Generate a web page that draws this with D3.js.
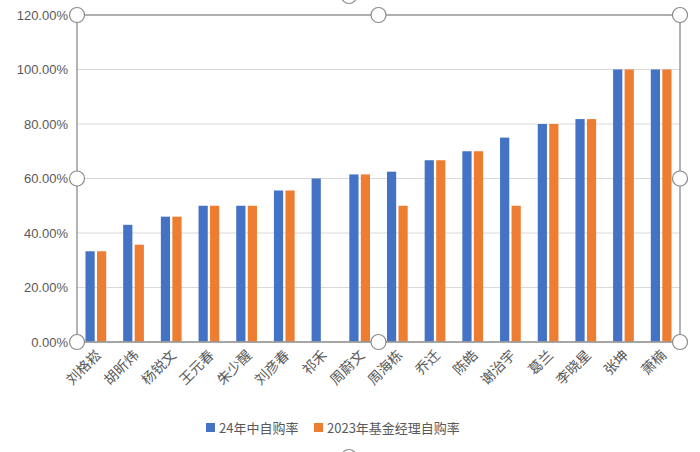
<!DOCTYPE html><html><head><meta charset="utf-8"><script src="https://cdn.jsdelivr.net/npm/d3@7"></script>
<style>body{margin:0;background:#fff}</style></head><body><svg id="c" width="700" height="452"></svg><script>
const categories=["刘格崧","胡昕炜","杨锐文","王元春","朱少醒","刘彦春","祁禾","周蔚文","周海栋","乔迁","陈皓","谢治宇","葛兰","李晓星","张坤","萧楠"];
const series1=[0.333,0.43,0.46,0.50,0.50,0.556,0.60,0.615,0.625,0.667,0.70,0.75,0.80,0.818,1.0,1.0];
const series2=[0.333,0.357,0.46,0.50,0.50,0.556,null,0.615,0.50,0.667,0.70,0.50,0.80,0.818,1.0,1.0];
const seriesNames=["24年中自购率","2023年基金经理自购率"];
const yTicks=[0,0.2,0.4,0.6,0.8,1.0,1.2];
const colors=["#4472C4","#ED7D31"];
const svg=d3.select("#c");
const L=77,R=680,T=15,B=342;
const x=d3.scaleBand().domain(categories).range([L,R]).paddingInner(0.45).paddingOuter(0.225);
const x1=d3.scaleBand().domain([0,1]).range([0,x.bandwidth()]).paddingInner(0.2);
const y=d3.scaleLinear().domain([0,1.2]).range([B,T]);
const g=svg.append("g");
g.selectAll(".grid").data(yTicks).join("line").attr("x1",L).attr("x2",R).attr("y1",d=>y(d)).attr("y2",d=>y(d)).attr("stroke","#d9d9d9");
g.selectAll(".yl").data(yTicks).join("text").attr("x",68).attr("y",d=>y(d)+4.5).attr("text-anchor","end").attr("font-family","Liberation Sans, Arial").attr("font-size",13).attr("fill","#595959").text(d=>(d*100).toFixed(2)+"%");
[series1,series2].forEach((s,i)=>{
 g.selectAll(".b"+i).data(categories.map((c,j)=>({c,v:s[j]})).filter(d=>d.v!=null)).join("rect")
 .attr("x",d=>x(d.c)+x1(i)).attr("width",x1.bandwidth()).attr("y",d=>y(d.v)).attr("height",d=>B-y(d.v)).attr("fill",colors[i]);
});
g.append("line").attr("x1",L).attr("x2",R).attr("y1",B).attr("y2",B).attr("stroke","#a6a6a6");
g.selectAll(".xl").data(categories).join("text").attr("transform",d=>`translate(${x(d)+x.bandwidth()/2+6},${B+14}) rotate(-45)`).attr("text-anchor","end").attr("font-family","Noto Sans CJK SC").attr("font-size",14).attr("fill","#595959").text(d=>d);
// selection frame
g.append("rect").attr("x",L).attr("y",T).attr("width",R-L).attr("height",B-T).attr("fill","none").attr("stroke","#9a9a9a").attr("stroke-width",1.5);
const handles=[[L,T],[(L+R)/2,T],[R,T],[L,(T+B)/2],[R,(T+B)/2],[L,B],[(L+R)/2,B],[R,B],[349,-4],[349,457]];
g.selectAll(".h").data(handles).join("circle").attr("cx",d=>d[0]).attr("cy",d=>d[1]).attr("r",7.5).attr("fill","#fff").attr("stroke","#8a8a8a").attr("stroke-width",1.2);
const lg=svg.append("g").attr("transform","translate(206,428)");
seriesNames.forEach((n,i)=>{
 const ox=i===0?0:108;
 lg.append("rect").attr("x",ox).attr("y",-5).attr("width",9).attr("height",9).attr("fill",colors[i]);
 lg.append("text").attr("x",ox+13).attr("y",5).attr("font-family","Noto Sans CJK SC").attr("font-size",13).attr("fill","#595959").text(n);
});
</script></body></html>
